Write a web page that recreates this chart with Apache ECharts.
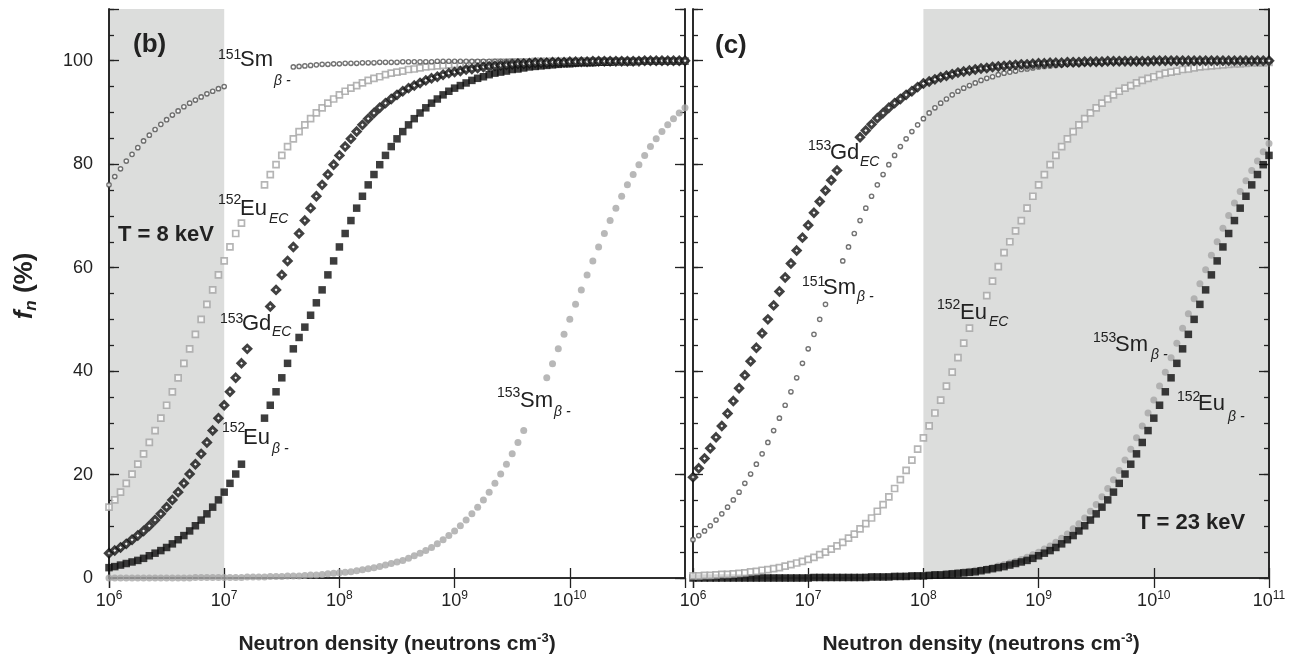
<!DOCTYPE html>
<html>
<head>
<meta charset="utf-8">
<script src="https://cdn.jsdelivr.net/npm/echarts@6/dist/echarts.min.js"></script>
<style>
html,body{margin:0;padding:0;background:#fff;}
#chart{width:1289px;height:660px;}
</style>
</head>
<body>
<div id="chart"></div>
<script>
// log10 of neutron density (x grid of the plotted points)
const logN = [
6.00,6.05,6.10,6.15,6.20,6.25,6.30,6.35,6.40,6.45,
6.50,6.55,6.60,6.65,6.70,6.75,6.80,6.85,6.90,6.95,
7.00,7.05,7.10,7.15,7.20,7.25,7.30,7.35,7.40,7.45,
7.50,7.55,7.60,7.65,7.70,7.75,7.80,7.85,7.90,7.95,
8.00,8.05,8.10,8.15,8.20,8.25,8.30,8.35,8.40,8.45,
8.50,8.55,8.60,8.65,8.70,8.75,8.80,8.85,8.90,8.95,
9.00,9.05,9.10,9.15,9.20,9.25,9.30,9.35,9.40,9.45,
9.50,9.55,9.60,9.65,9.70,9.75,9.80,9.85,9.90,9.95,
10.00,10.05,10.10,10.15,10.20,10.25,10.30,10.35,10.40,10.45,
10.50,10.55,10.60,10.65,10.70,10.75,10.80,10.85,10.90,10.95,
11.00];

// ---- panel (b), T = 8 keV : f_n (%) ----
const b_sm153 = [
0,0,0,0,0,0,0,0,0,0,
0,0,0,0,0,0.1,0.1,0.1,0.1,0.1,
0.1,0.1,0.1,0.1,0.2,0.2,0.2,0.2,0.3,0.3,
0.3,0.4,0.4,0.4,0.5,0.6,0.6,0.7,0.8,0.9,
1.0,1.1,1.2,1.4,1.6,1.8,2.0,2.2,2.5,2.8,
3.1,3.4,3.8,4.3,4.8,5.3,5.9,6.6,7.4,8.2,
9.1,10.1,11.2,12.4,13.7,15.1,16.6,18.3,20.1,22.0,
24.0,26.2,28.5,null,null,null,38.7,41.4,44.3,47.1,
50.0,52.9,55.7,58.6,61.3,64.0,66.6,69.1,71.5,73.8,
76.0,78.0,79.9,81.7,83.4,84.9,86.3,87.6,88.8,89.9,
90.9];
const b_eu152b = [
2.0,2.2,2.5,2.8,3.1,3.4,3.8,4.3,4.8,5.3,
5.9,6.6,7.4,8.2,9.1,10.1,11.2,12.4,13.7,15.1,
16.6,18.3,20.1,22.0,null,null,null,30.9,33.4,36.0,
38.7,41.5,44.3,46.5,48.5,50.8,53.2,55.7,58.6,61.3,
64.0,66.6,69.1,71.5,73.8,76.0,78.0,79.9,81.7,83.4,
84.9,86.3,87.6,88.8,89.9,90.9,91.8,92.6,93.4,94.1,
94.7,95.2,95.7,96.2,96.6,96.9,97.3,97.6,97.8,98.0,
98.3,98.4,98.6,98.8,98.9,99.0,99.1,99.2,99.3,99.4,
99.4,99.5,99.6,99.6,99.6,99.7,99.7,99.7,99.8,99.8,
99.8,99.8,99.9,99.9,99.9,99.9,99.9,99.9,99.9,99.9,
99.9];
const b_eu152ec = [
13.7,15.1,16.6,18.3,20.1,22.0,24.0,26.2,28.5,30.9,
33.4,36.0,38.7,41.5,44.3,47.1,50.0,52.9,55.7,58.6,
61.3,64.0,66.6,68.6,null,null,null,76.0,78.0,79.9,
81.7,83.4,84.9,86.3,87.6,88.8,89.9,90.9,91.8,92.6,
93.4,94.1,94.7,95.2,95.7,96.2,96.6,96.9,97.3,97.6,
97.8,98.0,98.3,98.4,98.6,98.8,98.9,99.0,99.1,99.2,
99.3,99.4,99.4,99.5,99.6,99.6,99.6,99.7,99.7,99.7,
99.8,99.8,99.8,99.8,99.9,99.9,99.9,99.9,99.9,99.9,
99.9,99.9,100,100,100,100,100,100,100,100,
100,100,100,100,100,100,100,100,100,100,
100];
const b_sm151 = [
76.0,77.6,79.1,80.6,81.9,83.2,84.5,85.6,86.7,87.7,
88.6,89.5,90.3,91.1,91.8,92.4,93.0,93.6,94.1,94.6,
95.0,null,null,null,null,null,null,null,null,null,
null,null,98.8,98.9,99.0,99.1,99.2,99.3,99.3,99.4,
99.4,99.5,99.5,99.5,99.6,99.6,99.6,99.7,99.7,99.7,
99.7,99.8,99.8,99.8,99.8,99.8,99.8,99.9,99.9,99.9,
99.9,99.9,99.9,99.9,99.9,99.9,99.9,99.9,99.9,99.9,
99.9,99.9,99.9,99.9,100,100,100,100,100,100,
100,100,100,100,100,100,100,100,100,100,
100,100,100,100,100,100,100,100,100,100,
100];
const b_gd153 = [
4.8,5.3,5.9,6.6,7.4,8.2,9.1,10.1,11.2,12.4,
13.7,15.1,16.6,18.3,20.1,22.0,24.0,26.2,28.5,30.9,
33.4,36.0,38.7,41.5,44.3,null,null,null,52.5,55.7,
58.6,61.3,64.0,66.6,69.1,71.5,73.8,76.0,78.0,79.9,
81.7,83.4,84.9,86.3,87.6,88.8,89.9,90.9,91.8,92.6,
93.4,94.1,94.7,95.2,95.7,96.2,96.6,96.9,97.3,97.6,
97.8,98.0,98.3,98.4,98.6,98.8,98.9,99.0,99.1,99.2,
99.3,99.4,99.4,99.5,99.6,99.6,99.6,99.7,99.7,99.7,
99.8,99.8,99.8,99.8,99.9,99.9,99.9,99.9,99.9,99.9,
99.9,99.9,99.9,100,100,100,100,100,100,100,
100];

// ---- panel (c), T = 23 keV : f_n (%) ----
const c_sm153 = [
0,0,0,0,0,0,0,0,0,0,
0,0,0,0,0,0,0,0,0,0,
0.1,0.1,0.1,0.1,0.1,0.1,0.1,0.1,0.1,0.1,
0.2,0.2,0.2,0.2,0.3,0.3,0.3,0.4,0.4,0.5,
0.5,0.6,0.7,0.7,0.8,0.9,1.0,1.2,1.3,1.5,
1.6,1.8,2.0,2.3,2.6,2.9,3.2,3.6,4.0,4.5,
5.0,5.6,6.2,6.9,7.7,8.5,9.5,10.5,11.6,12.9,
14.2,15.7,17.3,19.0,20.8,22.8,24.9,27.1,29.4,31.9,
34.4,37.1,39.8,42.6,45.4,48.3,51.1,54.0,56.9,59.6,
62.4,65.0,67.6,70.1,72.5,74.7,76.8,78.8,80.6,82.4,
84.0];
const c_eu152b = [
0,0,0,0,0,0,0,0,0,0,
0,0,0,0,0,0,0,0,0,0,
0.0,0.1,0.1,0.1,0.1,0.1,0.1,0.1,0.1,0.1,
0.1,0.2,0.2,0.2,0.2,0.3,0.3,0.3,0.4,0.4,
0.4,0.5,0.6,0.6,0.7,0.8,0.9,1.0,1.1,1.2,
1.4,1.6,1.8,2.0,2.2,2.5,2.8,3.1,3.4,3.8,
4.3,4.8,5.3,5.9,6.6,7.4,8.2,9.1,10.1,11.2,
12.4,13.7,15.1,16.6,18.3,20.1,22.0,24.0,26.2,28.5,
30.9,33.4,36.0,38.7,41.5,44.3,47.1,50.0,52.9,55.7,
58.6,61.3,64.0,66.6,69.1,71.5,73.8,76.0,78.0,79.9,
81.7];
const c_eu152ec = [
0.4,0.4,0.5,0.5,0.6,0.7,0.7,0.8,0.9,1.0,
1.2,1.3,1.5,1.6,1.8,2.0,2.3,2.6,2.9,3.2,
3.6,4.0,4.5,5.0,5.6,6.2,6.9,7.7,8.5,9.5,
10.5,11.6,12.9,14.2,15.7,17.3,19.0,20.8,22.8,24.9,
27.1,29.4,31.9,34.4,37.1,39.8,42.6,45.4,48.3,null,
null,54.6,57.4,60.2,62.9,65.0,67.1,69.1,71.5,73.8,
76.0,78.0,79.9,81.7,83.4,84.9,86.3,87.6,88.8,89.9,
90.9,91.8,92.6,93.4,94.1,94.7,95.2,95.7,96.2,96.6,
96.9,97.3,97.6,97.8,98.0,98.3,98.4,98.6,98.8,98.9,
99.0,99.1,99.2,99.3,99.4,99.4,99.5,99.6,99.6,99.6,
99.7];
const c_sm151 = [
7.4,8.2,9.1,10.1,11.2,12.4,13.7,15.1,16.6,18.3,
20.1,22.0,24.0,26.2,28.5,30.9,33.4,36.0,38.7,41.5,
44.3,47.1,50.0,52.9,null,null,61.3,64.0,66.6,69.1,
71.5,73.8,76.0,78.0,79.9,81.7,83.4,84.9,86.3,87.6,
88.8,89.9,90.9,91.8,92.6,93.4,94.1,94.7,95.2,95.7,
96.2,96.6,96.9,97.3,97.6,97.8,98.0,98.3,98.4,98.6,
98.8,98.9,99.0,99.1,99.2,99.3,99.4,99.4,99.5,99.6,
99.6,99.6,99.7,99.7,99.7,99.8,99.8,99.8,99.8,99.9,
99.9,99.9,99.9,99.9,99.9,99.9,99.9,99.9,99.9,99.9,
99.9,99.9,99.9,99.9,99.9,100,100,100,100,100,
100];
const c_gd153 = [
19.5,21.2,23.1,25.1,27.2,29.4,31.8,34.2,36.7,39.2,
41.9,44.5,47.3,50.0,52.7,55.4,58.1,60.8,63.3,65.8,
68.2,70.6,72.8,74.9,76.9,78.8,null,null,null,85.2,
86.5,87.7,88.9,89.9,90.9,91.8,92.6,93.4,94.1,94.9,
95.6,96.0,96.4,96.8,97.1,97.4,97.7,97.9,98.1,98.3,
98.5,98.6,98.8,98.9,99.0,99.1,99.2,99.3,99.3,99.4,
99.5,99.5,99.6,99.6,99.6,99.7,99.7,99.7,99.8,99.8,
99.8,99.8,99.9,99.9,99.9,99.9,99.9,99.9,99.9,99.9,
100,100,100,100,100,100,100,100,100,100,
100,100,100,100,100,100,100,100,100,100,
100];

// axis ranges / shaded ranges (log10 n)
const xRangeLog = [6, 11];
const yTicksMajor = [0, 20, 40, 60, 80, 100];
const shadeB = [6, 7];
const shadeC = [8, 11];

const FF = "'Liberation Sans', Arial, Helvetica, sans-serif";
const INK = '#222';

function pts(arr) {
  const out = [];
  for (let i = 0; i < logN.length; i++) {
    if (arr[i] !== null) out.push([Math.pow(10, logN[i]), arr[i]]);
  }
  return out;
}

const styles = {
  sm153:  { symbol: 'circle',  symbolSize: 7,   itemStyle: { color: '#a6a6a6' } },
  eu152b: { symbol: 'rect',    symbolSize: 7.5, itemStyle: { color: '#0c0c0c' } },
  eu152ec:{ symbol: 'rect',    symbolSize: 6,   itemStyle: { color: '#ffffff', borderColor: '#a2a2a2', borderWidth: 1.7 } },
  sm151:  { symbol: 'circle',  symbolSize: 4.3, itemStyle: { color: '#ffffff', borderColor: '#505050', borderWidth: 1.4 } },
  gd153:  { symbol: 'diamond', symbolSize: 7.2, itemStyle: { color: '#ffffff', borderColor: '#111111', borderWidth: 3 } }
};

function mkSeries(name, key, arr, xi, yi) {
  const s = styles[key];
  return {
    name: name, type: 'scatter', xAxisIndex: xi, yAxisIndex: yi, z: 5,
    symbol: s.symbol, symbolSize: s.symbolSize, itemStyle: s.itemStyle,
    data: pts(arr), silent: true
  };
}

function xAx(grid, pos, showLabel, hideMax) {
  return {
    type: 'log', logBase: 10, gridIndex: grid, position: pos,
    min: Math.pow(10, xRangeLog[0]), max: Math.pow(10, xRangeLog[1]),
    z: 3,
    axisLine: { show: true, lineStyle: { color: INK, width: 1.6 } },
    axisTick: { show: true, inside: true, length: 10, lineStyle: { color: INK, width: 1.3 } },
    minorTick: { show: false },
    splitLine: { show: false },
    axisLabel: {
      show: showLabel, margin: 12, showMaxLabel: !hideMax, showMinLabel: true,
      formatter: v => '{b|10}{s|' + Math.round(Math.log10(v)) + '}',
      rich: {
        b: { fontSize: 18, lineHeight: 22, color: INK, fontFamily: FF },
        s: { fontSize: 12, lineHeight: 12, verticalAlign: 'top', color: INK, fontFamily: FF }
      }
    }
  };
}

function yAx(grid, pos, major, showLabel) {
  return {
    type: 'value', gridIndex: grid, position: pos, min: 0, max: 110,
    interval: major ? 20 : 5, z: 3,
    axisLine: { show: true, lineStyle: { color: INK, width: 1.6 } },
    axisTick: { show: true, inside: true, length: major ? 10 : 5, lineStyle: { color: INK, width: 1.3 } },
    splitLine: { show: false },
    axisLabel: {
      show: showLabel && major, margin: 16, fontSize: 18, color: INK, fontFamily: FF,
      formatter: v => (yTicksMajor.indexOf(v) >= 0 ? String(v) : '')
    }
  };
}

function shadeSeries(xi, yi, range) {
  return {
    type: 'scatter', xAxisIndex: xi, yAxisIndex: yi, data: [], z: 0, silent: true,
    markArea: {
      silent: true, z: 1,
      itemStyle: { color: '#dcdddc', borderWidth: 0 },
      data: [[{ xAxis: Math.pow(10, range[0]) }, { xAxis: Math.pow(10, range[1]) }]]
    }
  };
}

function txt(text, x, y, size, extra) {
  return {
    type: 'text', x: x, y: y, z: 100, silent: true,
    style: Object.assign({
      text: text, fontSize: size, fontFamily: FF, fill: INK,
      align: 'left', verticalAlign: 'middle'
    }, extra || {})
  };
}

// annotation layout: [sup, main, sub, xSup, ySup, xMain, yMain, xSub, ySub]
const notes = [
  ['151', 'Sm', 'β -', 218, 55, 240, 59.5, 274, 81],
  ['152', 'Eu', 'EC', 218, 200, 240, 209, 269, 219],
  ['153', 'Gd', 'EC', 220, 319, 242, 324, 272, 332],
  ['152', 'Eu', 'β -', 222, 428, 243, 437.5, 272, 449],
  ['153', 'Sm', 'β -', 497, 393, 520, 401, 554, 412],
  ['153', 'Gd', 'EC', 808, 146, 830, 153, 860, 162],
  ['151', 'Sm', 'β -', 802, 282, 823, 288, 857, 297],
  ['152', 'Eu', 'EC', 937, 305, 960, 313, 989, 322],
  ['153', 'Sm', 'β -', 1093, 338, 1115, 345, 1151, 355],
  ['152', 'Eu', 'β -', 1177, 397, 1198, 404, 1228, 417]
];

const graphics = [];
notes.forEach(n => {
  graphics.push(txt(n[0], n[3], n[4], 14));
  graphics.push(txt(n[1], n[5], n[6], 22));
  graphics.push(txt(n[2], n[7], n[8], 14, { fontStyle: 'italic' }));
});
graphics.push(txt('(b)', 133, 45, 26, { fontWeight: 'bold' }));
graphics.push(txt('(c)', 715, 46, 26, { fontWeight: 'bold' }));
graphics.push(txt('T = 8 keV', 118, 235, 22, { fontWeight: 'bold' }));
graphics.push(txt('T = 23 keV', 1137, 523, 22, { fontWeight: 'bold' }));

const xTitleRich = {
  t: { fontSize: 21, fontWeight: 'bold', lineHeight: 25, fontFamily: FF, color: INK },
  s: { fontSize: 13, fontWeight: 'bold', lineHeight: 13, verticalAlign: 'top', fontFamily: FF, color: INK }
};
[397, 981].forEach(cx => {
  graphics.push({
    type: 'text', x: cx, y: 644, z: 100, silent: true,
    style: {
      text: '{t|Neutron density (neutrons cm}{s|-3}{t|)}', rich: xTitleRich,
      align: 'center', verticalAlign: 'middle', fill: INK, fontFamily: FF
    }
  });
});
graphics.push({
  type: 'text', x: 25, y: 286, rotation: Math.PI / 2, z: 100, silent: true,
  style: {
    text: '{a|f}{b|n}{c| (%)}',
    rich: {
      a: { fontSize: 26, fontWeight: 'bold', fontStyle: 'italic', lineHeight: 30, fontFamily: FF, color: INK },
      b: { fontSize: 17, fontWeight: 'bold', fontStyle: 'italic', lineHeight: 17, verticalAlign: 'bottom', fontFamily: FF, color: INK },
      c: { fontSize: 26, fontWeight: 'bold', lineHeight: 30, fontFamily: FF, color: INK }
    },
    align: 'center', verticalAlign: 'middle', fill: INK
  }
});

const chart = echarts.init(document.getElementById('chart'), null, { renderer: 'canvas' });
chart.setOption({
  animation: false,
  backgroundColor: '#ffffff',
  textStyle: { fontFamily: FF },
  grid: [
    { left: 109, top: 9, width: 576, height: 569 },
    { left: 693, top: 9, width: 576, height: 569 }
  ],
  xAxis: [
    xAx(0, 'bottom', true, true),
    xAx(0, 'top', false, true),
    xAx(1, 'bottom', true, false),
    xAx(1, 'top', false, false)
  ],
  yAxis: [
    yAx(0, 'left', true, true),
    yAx(0, 'left', false, false),
    yAx(0, 'right', true, false),
    yAx(0, 'right', false, false),
    yAx(1, 'left', true, false),
    yAx(1, 'left', false, false),
    yAx(1, 'right', true, false),
    yAx(1, 'right', false, false)
  ],
  series: [
    shadeSeries(0, 0, shadeB),
    shadeSeries(2, 4, shadeC),
    mkSeries('153Sm β- (b)', 'sm153', b_sm153, 0, 0),
    mkSeries('152Eu β- (b)', 'eu152b', b_eu152b, 0, 0),
    mkSeries('152Eu EC (b)', 'eu152ec', b_eu152ec, 0, 0),
    mkSeries('151Sm β- (b)', 'sm151', b_sm151, 0, 0),
    mkSeries('153Gd EC (b)', 'gd153', b_gd153, 0, 0),
    mkSeries('153Sm β- (c)', 'sm153', c_sm153, 2, 4),
    mkSeries('152Eu β- (c)', 'eu152b', c_eu152b, 2, 4),
    mkSeries('152Eu EC (c)', 'eu152ec', c_eu152ec, 2, 4),
    mkSeries('151Sm β- (c)', 'sm151', c_sm151, 2, 4),
    mkSeries('153Gd EC (c)', 'gd153', c_gd153, 2, 4)
  ],
  graphic: graphics
});
</script>
</body>
</html>
